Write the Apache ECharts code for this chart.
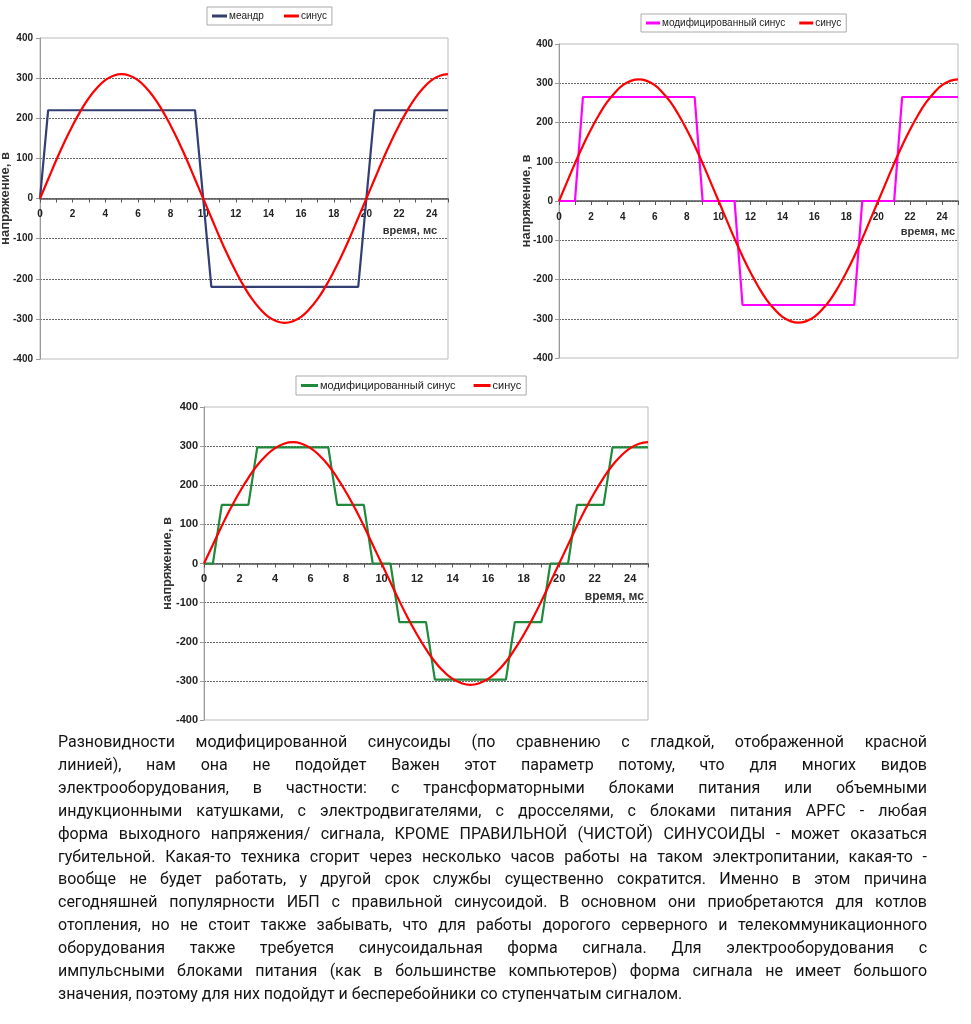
<!DOCTYPE html>
<html><head><meta charset="utf-8">
<script src="https://cdn.jsdelivr.net/npm/echarts@6/dist/echarts.min.js"></script>
<style>html,body{margin:0;padding:0;background:#fff}#c{width:971px;height:1024px}</style>
</head><body><div id="c"></div>
<script>
// ---- data ----
const sineT = [0,0.5,1,1.5,2,2.5,3,3.5,4,4.5,5,5.5,6,6.5,7,7.5,8,8.5,9,9.5,10,10.5,11,11.5,12,12.5,13,13.5,14,14.5,15,15.5,16,16.5,17,17.5,18,18.5,19,19.5,20,20.5,21,21.5,22,22.5,23,23.5,24,24.5,25];
const sineV = [0,48,96,141,182,219,251,276,295,306,310,306,295,276,251,219,182,141,96,48,0,-48,-96,-141,-182,-219,-251,-276,-295,-306,-310,-306,-295,-276,-251,-219,-182,-141,-96,-48,0,48,96,141,182,219,251,276,295,306,310];
const meanderT = [0,0.5,9.5,10.5,19.5,20.5,25];
const meanderV = [0,220,220,-220,-220,220,220];
const modT = [0,1,1.5,8.5,9,11,11.5,18.5,19,21,21.5,25];
const modV = [0,0,265,265,0,0,-265,-265,0,0,265,265];
const stepT = [0,0.5,1,2.5,3,7,7.5,9,9.5,10.5,11,12.5,13,17,17.5,19,19.5,20.5,21,22.5,23,25];
const stepV = [0,0,150,150,297,297,150,150,0,0,-150,-150,-297,-297,-150,-150,0,0,150,150,297,297];
const xTickLabels = [0,2,4,6,8,10,12,14,16,18,20,22,24];
const yName = 'напряжение, в';
const xName = 'время, мс';
const nameMeander = 'меандр';
const nameSine = 'синус';
const nameMod = 'модифицированный синус';
const paragraphLines = [
 'Разновидности модифицированной синусоиды (по сравнению с гладкой, отображенной красной',
 'линией), нам она не подойдет Важен этот параметр потому, что для многих видов',
 'электрооборудования, в частности: с трансформаторными блоками питания или объемными',
 'индукционными катушками, с электродвигателями, с дросселями, с блоками питания APFC - любая',
 'форма выходного напряжения/ сигнала, КРОМЕ ПРАВИЛЬНОЙ (ЧИСТОЙ) СИНУСОИДЫ - может оказаться',
 'губительной. Какая-то техника сгорит через несколько часов работы на таком электропитании, какая-то -',
 'вообще не будет работать, у другой срок службы существенно сократится. Именно в этом причина',
 'сегодняшней популярности ИБП с правильной синусоидой. В основном они приобретаются для котлов',
 'отопления, но не стоит также забывать, что для работы дорогого серверного и телекоммуникационного',
 'оборудования также требуется синусоидальная форма сигнала. Для электрооборудования с',
 'импульсными блоками питания (как в большинстве компьютеров) форма сигнала не имеет большого',
 'значения, поэтому для них подойдут и бесперебойники со ступенчатым сигналом.'
];

// ---- styles ----
const RED = '#ff0000', NAVY = '#333f72', MAGENTA = '#ff00ff', GREEN = '#1f8a3b';
const AX_FONT = 'Liberation Sans';
const pairs = (t, v) => t.map((x, i) => [x, v[i]]);

const grids = [
  {left: 40, top: 38, width: 408, height: 321},
  {left: 559, top: 44, width: 399, height: 314},
  {left: 204, top: 407, width: 444, height: 313}
];
const axCfg = [
  {tick: 10, xm: 11, ym: 7, yng: 28, xng: -11, xpad: 27, yfs: 13, xfs: 11},
  {tick: 10, xm: 11, ym: 6, yng: 26, xng: -3, xpad: 25, yfs: 13, xfs: 11},
  {tick: 11, xm: 10, ym: 6, yng: 30, xng: -4, xpad: 27, yfs: 13, xfs: 12}
];

const xAxes = [], yAxes = [];
axCfg.forEach((c, gi) => {
  xAxes.push({
    gridIndex: gi, type: 'value', min: 0, max: 25, interval: 1,
    position: 'bottom', offset: -grids[gi].height / 2,
    axisLine: {show: true, onZero: false, lineStyle: {color: '#555', width: 1.5}},
    axisTick: {show: true, length: 4, lineStyle: {color: '#555'}},
    axisLabel: {margin: c.xm, fontSize: c.tick, fontWeight: 'bold', fontFamily: AX_FONT, color: '#222',
      formatter: v => xTickLabels.indexOf(v) >= 0 ? String(v) : ''},
    splitLine: {show: false},
    name: xName, nameLocation: 'end', nameGap: c.xng, nameMoveOverlap: false,
    nameTextStyle: {fontSize: c.xfs, fontWeight: 'bold', fontFamily: AX_FONT, color: '#333',
      align: 'right', verticalAlign: 'top', padding: [c.xpad, 0, 0, 0]}
  });
  yAxes.push({
    gridIndex: gi, type: 'value', min: -400, max: 400, interval: 100,
    axisLine: {show: true, lineStyle: {color: '#999', width: 1}},
    axisTick: {show: true, length: 4, lineStyle: {color: '#999'}},
    axisLabel: {margin: c.ym, fontSize: c.tick, fontWeight: 'bold', fontFamily: AX_FONT, color: '#222'},
    splitLine: {show: true, showMinLine: false, showMaxLine: false, lineStyle: {color: '#666', type: [2, 1], width: 1}},
    name: yName, nameLocation: 'middle', nameGap: c.yng, nameRotate: 90, nameMoveOverlap: false,
    nameTextStyle: {fontSize: c.yfs, fontWeight: 'bold', fontFamily: AX_FONT, color: '#333'}
  });
});

function lineSeries(name, gi, data, color, smooth) {
  return {
    type: 'line', name, xAxisIndex: gi, yAxisIndex: gi, data,
    showSymbol: false, symbol: 'none', smooth: !!smooth, animation: false,
    lineStyle: {color, width: 2.2}, itemStyle: {color}, emphasis: {disabled: true}
  };
}
const series = [
  lineSeries(nameMeander, 0, pairs(meanderT, meanderV), NAVY),
  lineSeries(nameSine, 0, pairs(sineT, sineV), RED, true),
  lineSeries(nameMod, 1, pairs(modT, modV), MAGENTA),
  lineSeries(nameSine, 1, pairs(sineT, sineV), RED, true),
  lineSeries(nameMod, 2, pairs(stepT, stepV), GREEN),
  lineSeries(nameSine, 2, pairs(sineT, sineV), RED, true)
];

function legend(left, top, items, fs, iw, gap) {
  return {
    left, top, orient: 'horizontal', icon: 'rect', itemWidth: iw, itemHeight: 3, itemGap: gap,
    padding: [4, 5], borderColor: '#aaa', borderWidth: 1, backgroundColor: '#fff',
    selectedMode: false,
    textStyle: {fontSize: fs, fontFamily: AX_FONT, color: '#222', padding: [0, 0, 0, -3]},
    data: items
  };
}
const legends = [
  legend(207, 7, [{name: nameMeander, itemStyle: {color: NAVY}}, {name: nameSine, itemStyle: {color: RED}}], 10, 15, 20),
  legend(641, 14, [{name: nameMod, itemStyle: {color: MAGENTA}}, {name: nameSine, itemStyle: {color: RED}}], 10, 14, 14),
  legend(296, 376, [{name: nameMod, itemStyle: {color: GREEN}}, {name: nameSine, itemStyle: {color: RED}}], 11, 17, 18)
];

// ---- paragraph (justified, word by word) ----
const P_FAMILY = 'Roboto';
const P_LEFT = 58, P_RIGHT = 927, P_TOP = 743, P_LINE = 22.9;
const ctx = document.createElement('canvas').getContext('2d');
function tw(s, size) { ctx.font = size + 'px ' + P_FAMILY; return ctx.measureText(s).width; }
let pSize = 16;
paragraphLines.forEach(l => {
  const nat = tw(l, 16);
  if (nat > (P_RIGHT - P_LEFT)) pSize = Math.min(pSize, 16 * (P_RIGHT - P_LEFT) / nat);
});
pSize = Math.floor(pSize * 10) / 10;
const pElems = [];
paragraphLines.forEach((line, li) => {
  const words = line.split(' ');
  const widths = words.map(w => tw(w, pSize));
  const total = widths.reduce((a, b) => a + b, 0);
  const last = li === paragraphLines.length - 1;
  const gapW = last ? tw(' ', pSize) : (P_RIGHT - P_LEFT - total) / (words.length - 1);
  let x = P_LEFT;
  const y = P_TOP + li * P_LINE;
  words.forEach((w, wi) => {
    pElems.push({type: 'text', x, y, silent: true,
      style: {text: w, fontSize: pSize, fontFamily: P_FAMILY, fill: '#141414', align: 'left', verticalAlign: 'middle'}});
    x += widths[wi] + gapW;
  });
});

const chart = echarts.init(document.getElementById('c'), null, {renderer: 'canvas'});
chart.setOption({
  animation: false,
  backgroundColor: '#fff',
  grid: grids.map(g => Object.assign({show: true, borderColor: '#bbb', borderWidth: 1, backgroundColor: 'transparent', containLabel: false, outerBoundsMode: 'none'}, g)),
  xAxis: xAxes,
  yAxis: yAxes,
  legend: legends,
  series,
  graphic: {elements: pElems}
});
</script></body></html>
